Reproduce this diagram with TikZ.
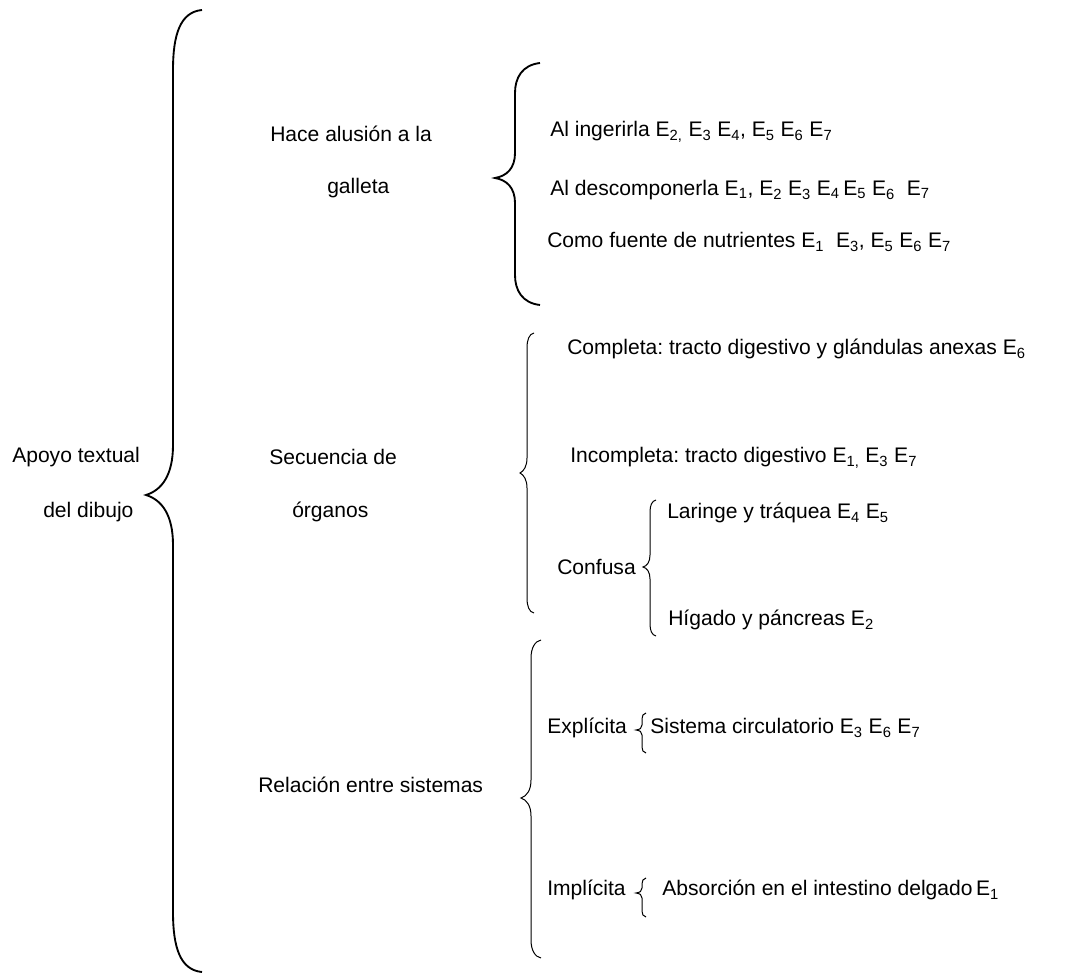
\documentclass[tikz,border=0pt]{standalone}
\usepackage{fontspec}
\setmainfont{Liberation Sans}
\usepackage{tikz}
\usetikzlibrary{positioning}

\newcommand{\subi}[1]{\textsubscript{#1}}
\frenchspacing

\begin{document}
\begin{tikzpicture}[x=0.75pt,y=0.75pt,yscale=-1,xscale=1,
    etiqueta/.style={anchor=west,inner sep=0pt,font=\fontsize{15.8pt}{19pt}\selectfont},
    llave/.style={line width=0.75pt},
    llavegruesa/.style={line width=1.4pt}]
            \useasboundingbox (0,0) rectangle (1070,980);
            %Curve Lines (main brace)
            \draw [llavegruesa] (202,10) .. controls (180,12) and (173,35) .. (173,70) -- (173,445) .. controls (173,475) and (162,490) .. (146,495)
                .. controls (162,500) and (173,515) .. (173,545) -- (173,912) .. controls (173,947) and (180,970) .. (202,972) ;
            %Curve Lines (galleta)
            \draw [llavegruesa] (540,63) .. controls (522,65) and (515,78) .. (515,93) -- (515,153) .. controls (515,168) and (507,176) .. (495,178)
                .. controls (507,180) and (515,188) .. (515,203) -- (515,275) .. controls (515,290) and (522,303) .. (540,305) ;
            %Curve Lines (organos)
            \draw [llave] (534,333) .. controls (529,334) and (527,340) .. (527,348) -- (527,458) .. controls (527,466) and (524,471) .. (520,473)
                .. controls (524,475) and (527,480) .. (527,488) -- (527,598) .. controls (527,606) and (529,612) .. (534,613) ;
            %Curve Lines (confusa)
            \draw [llave] (656,500) .. controls (652,501) and (650,505) .. (650,512) -- (650,555) .. controls (650,562) and (647,566) .. (643,567)
                .. controls (647,568) and (650,572) .. (650,579) -- (650,624) .. controls (650,631) and (652,635) .. (656,636) ;
            %Curve Lines (relacion)
            \draw [llave] (541,640) .. controls (535,641) and (531,648) .. (531,658) -- (531,780) .. controls (531,790) and (527,796) .. (521,798)
                .. controls (527,800) and (531,806) .. (531,816) -- (531,940) .. controls (531,950) and (535,957) .. (541,958) ;
            %Curve Lines (explicita)
            \draw [llave] (646,713) .. controls (643,713.5) and (642,716) .. (642,719) -- (642,725) .. controls (642,728) and (640,729.5) .. (636,730)
                .. controls (640,730.5) and (642,732) .. (642,735) -- (642,747) .. controls (642,750) and (643,752.5) .. (646,753) ;
            %Curve Lines (implicita)
            \draw [llave] (646,878) .. controls (643,878.5) and (642,881) .. (642,884) -- (642,888) .. controls (642,891) and (640,892.5) .. (636,893)
                .. controls (640,893.5) and (642,895) .. (642,898) -- (642,911) .. controls (642,914) and (643,916.5) .. (646,917) ;
            % Text Node
            \node [etiqueta] (apoyo) at (12,457) {Apoyo textual};
            \node [etiqueta] (dibujo) at (43,512) {del dibujo};
            \node [etiqueta] (hace) at (270,134) {Hace alusión a la};
            \node [etiqueta] (galleta) at (327,188) {galleta};
            \node [etiqueta] (secuencia) at (269,457) {Secuencia de};
            \node [etiqueta] (organos) at (292,512) {órganos};
            \node [etiqueta] (relacion) at (258,785) {Relación entre sistemas};
            % Text Node
            \node [etiqueta] (ingerir) at (550,132) {Al ingerirla E\subi{2,} E\subi{3} E\subi{4}, E\subi{5} E\subi{6} E\subi{7}};
            \node [etiqueta] (descomp) at (550,190) {Al descomponerla E\subi{1}, E\subi{2} E\subi{3} E\subi{4}\,E\subi{5} E\subi{6}\ \ E\subi{7}};
            \node [etiqueta] (fuente) at (547,242) {Como fuente de nutrientes E\subi{1}\ \ E\subi{3}, E\subi{5} E\subi{6} E\subi{7}};
            \node [etiqueta] (completa) at (567,349) {Completa: tracto digestivo y glándulas anexas E\subi{6}};
            \node [etiqueta] (incompleta) at (570,458) {Incompleta: tracto digestivo E\subi{1,} E\subi{3} E\subi{7}};
            \node [etiqueta] (confusa) at (557,567) {Confusa};
            \node [etiqueta] (laringe) at (667,513) {Laringe y tráquea E\subi{4} E\subi{5}};
            \node [etiqueta] (higado) at (668,620) {Hígado y páncreas E\subi{2}};
            \node [etiqueta] (explicita) at (547,728) {Explícita};
            \node [etiqueta] (sistema) at (650,728) {Sistema circulatorio E\subi{3} E\subi{6} E\subi{7}};
            \node [etiqueta] (implicita) at (547,890) {Implícita};
            \node [etiqueta] (absorcion) at (662,890) {Absorción en el intestino delgado\,E\subi{1}};
\end{tikzpicture}
\end{document}
